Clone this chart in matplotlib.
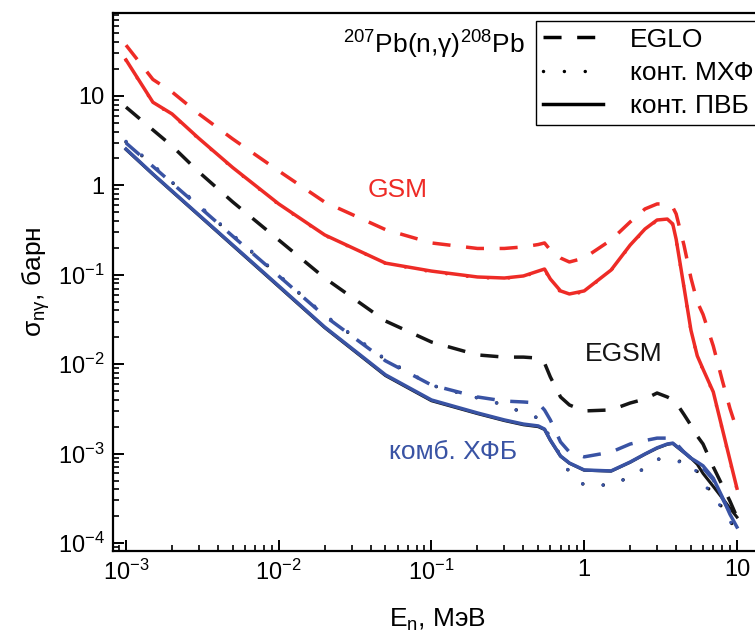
import numpy as np
import matplotlib
matplotlib.use('Agg')
import matplotlib.pyplot as plt
from matplotlib.lines import Line2D
from matplotlib.ticker import LogLocator, FuncFormatter, NullFormatter

plt.rcParams['font.family'] = ['Liberation Sans', 'DejaVu Sans']
plt.rcParams['mathtext.fontset'] = 'custom'
plt.rcParams['mathtext.rm'] = 'Liberation Sans'
plt.rcParams['mathtext.it'] = 'Liberation Sans:italic'
plt.rcParams['mathtext.bf'] = 'Liberation Sans:bold'

# энергия нейтронов, МэВ
energy = [1e-3, 1.5e-3, 2e-3, 3e-3, 5e-3, 1e-2, 2e-2, 5e-2, 0.1, 0.2, 0.3, 0.4,
          0.5, 0.55, 0.6, 0.7, 0.8, 1.0, 1.5, 2.0, 2.5, 3.0, 3.5, 3.8, 4.0, 4.5,
          5.0, 5.5, 6.0, 7.0, 8.0, 9.0, 10.0]

# GSM
gsm_eglo = [37, 15.3, 11.1, 6.3, 3.3, 1.45, 0.65, 0.32, 0.227, 0.197, 0.197, 0.205,
            0.218, 0.227, 0.189, 0.154, 0.139, 0.154, 0.245, 0.39, 0.545, 0.62, 0.62, 0.57, 0.48, 0.215,
            0.092, 0.0497, 0.036, 0.016, 6.7e-3, 3.2e-3, 1.84e-3]
gsm_pvb = [25.3, 8.5, 6.3, 3.35, 1.58, 0.62, 0.279, 0.135, 0.110, 0.0945, 0.092, 0.097,
           0.110, 0.116, 0.0898, 0.066, 0.061, 0.066, 0.113, 0.215, 0.325, 0.41, 0.42, 0.37, 0.25, 0.073,
           0.024, 0.0124, 8.8e-3, 4.9e-3, 1.93e-3, 8.5e-4, 4.1e-4]
gsm_mhf = [25.0, 8.4, 6.2, 3.3, 1.56, 0.61, 0.276, 0.134, 0.108, 0.093, 0.091, 0.096,
           0.108, 0.114, 0.088, 0.064, 0.059, 0.065, 0.112, 0.212, 0.32, 0.405, 0.415, 0.365, 0.245, 0.072,
           0.0235, 0.0122, 8.6e-3, 4.8e-3, 1.9e-3, 8.3e-4, 4.0e-4]

# EGSM
egsm_eglo = [7.5, 4.17, 2.76, 1.41, 0.652, 0.245, 0.092, 0.0304, 0.0177, 0.0127, 0.0120, 0.0120,
             0.0117, 0.0103, 7.2e-3, 4.3e-3, 3.5e-3, 3.0e-3, 3.08e-3, 3.68e-3, 4.08e-3, 4.76e-3, 4.3e-3, 4.0e-3, 3.7e-3, 2.74e-3,
             2.07e-3, 1.57e-3, 1.28e-3, 7.1e-4, 4.45e-4, 2.95e-4, 1.95e-4]
egsm_pvb = [2.52, 1.33, 0.855, 0.462, 0.212, 0.0738, 0.0256, 7.45e-3, 3.9e-3, 2.8e-3, 2.34e-3, 2.1e-3,
            2.0e-3, 1.86e-3, 1.41e-3, 9.35e-4, 7.8e-4, 6.52e-4, 6.37e-4, 8.0e-4, 9.85e-4, 1.15e-3, 1.27e-3, 1.3e-3, 1.21e-3, 1.03e-3,
            8.9e-4, 7.6e-4, 6.0e-4, 4.3e-4, 3.2e-4, 2.45e-4, 1.95e-4]
egsm_mhf = [3.05, 1.68, 1.08, 0.59, 0.275, 0.098, 0.035, 0.0112, 5.8e-3, 4.2e-3, 3.5e-3, 2.85e-3,
            2.5e-3, 2.09e-3, 1.42e-3, 9.6e-4, 6.1e-4, 4.45e-4, 4.45e-4, 5.5e-4, 6.9e-4, 8.7e-4, 8.5e-4, 8.5e-4, 8.4e-4, 8.0e-4,
            7.4e-4, 6.3e-4, 5.0e-4, 3.4e-4, 2.5e-4, 1.85e-4, 1.2e-4]

# комб. ХФБ
hfb_eglo = [2.98, 1.63, 1.06, 0.58, 0.27, 0.097, 0.0346, 0.0109, 5.85e-3, 4.3e-3, 3.87e-3, 3.78e-3,
            3.68e-3, 3.07e-3, 2.38e-3, 1.35e-3, 1.04e-3, 9.2e-4, 1.04e-3, 1.28e-3, 1.4e-3, 1.49e-3, 1.49e-3, 1.45e-3, 1.3e-3, 1.04e-3,
            8.9e-4, 8.0e-4, 6.9e-4, 5.1e-4, 3.2e-4, 2.2e-4, 1.63e-4]
hfb_pvb = [2.55, 1.34, 0.865, 0.467, 0.215, 0.075, 0.026, 7.6e-3, 3.98e-3, 2.85e-3, 2.38e-3, 2.14e-3,
           2.04e-3, 1.88e-3, 1.42e-3, 9.4e-4, 7.85e-4, 6.56e-4, 6.4e-4, 8.05e-4, 9.9e-4, 1.16e-3, 1.28e-3, 1.31e-3, 1.22e-3, 1.04e-3,
           8.9e-4, 8.05e-4, 7.3e-4, 5.3e-4, 3.3e-4, 2.1e-4, 1.51e-4]
hfb_mhf = [3.1, 1.7, 1.09, 0.6, 0.28, 0.0995, 0.0355, 0.0114, 5.85e-3, 4.2e-3, 3.5e-3, 2.85e-3,
           2.5e-3, 2.09e-3, 1.42e-3, 9.6e-4, 6.1e-4, 4.45e-4, 4.45e-4, 5.5e-4, 6.9e-4, 8.7e-4, 8.5e-4, 8.5e-4, 8.3e-4, 7.85e-4,
           7.8e-4, 6.1e-4, 4.8e-4, 3.3e-4, 2.46e-4, 1.8e-4, 1.14e-4]

RED = '#ee2b26'
BLUE = '#3953a4'
BLACK = '#151515'
LW = 2.5
DASH = (0, (5.2, 4.5))
DOT = (0, (0.01, 6.0))

fig = plt.figure(figsize=(7.55, 6.34), dpi=100)
ax = fig.add_axes([0.1497, 0.1309, 0.8596, 0.8486])


def curve(values, color, style, z, lw=LW):
    ax.plot(energy, values, color=color, lw=lw, linestyle=style,
            dash_capstyle='round' if style == DOT else 'butt', zorder=z)


curve(egsm_pvb, BLACK, '-', 2, lw=2.2)
curve(egsm_mhf, BLACK, DOT, 2)
curve(hfb_eglo, BLUE, DASH, 3)
curve(hfb_mhf, BLUE, DOT, 3)
curve(hfb_pvb, BLUE, '-', 3)
curve(egsm_eglo, BLACK, DASH, 4)
curve(gsm_eglo, RED, DASH, 4)
curve(gsm_mhf, RED, DOT, 4)
curve(gsm_pvb, RED, '-', 4)

ax.set_xscale('log')
ax.set_yscale('log')
ax.set_xlim(8.22e-4, 14.6)
ax.set_ylim(8.14e-5, 84.7)


def decade(v, pos):
    e = int(round(np.log10(v)))
    if e == 0:
        return '1'
    if e == 1:
        return '10'
    return r'$10^{%d}$' % e


for axis in (ax.xaxis, ax.yaxis):
    axis.set_major_locator(LogLocator(base=10, numticks=20))
    axis.set_minor_locator(LogLocator(base=10, subs=np.arange(2, 10), numticks=20))
    axis.set_major_formatter(FuncFormatter(decade))
    axis.set_minor_formatter(NullFormatter())

ax.tick_params(which='major', direction='in', length=8, width=1.4, labelsize=17, pad=6)
ax.tick_params(which='minor', direction='in', length=4.5, width=1.2)
for s in ax.spines.values():
    s.set_linewidth(1.6)

ax.set_xlabel(r'E$_{\mathrm{n}}$, МэВ', fontsize=19, labelpad=16)
ax.set_ylabel(r'σ$_{\mathrm{nγ}}$, барн', fontsize=19, labelpad=4)

ax.text(0.06, 0.89, 'GSM', color=RED, fontsize=19, ha='center', va='center')
ax.text(1.82, 0.013, 'EGSM', color=BLACK, fontsize=19, ha='center', va='center')
ax.text(0.138, 1.04e-3, 'комб. ХФБ', color=BLUE, fontsize=19, ha='center', va='center')
ax.text(0.104, 37, r'$^{207}$Pb(n,γ)$^{208}$Pb', fontsize=19, ha='center', va='center')

handles = [Line2D([], [], color='black', lw=LW, linestyle=DASH),
           Line2D([], [], color='black', lw=LW, linestyle=DOT, dash_capstyle='round'),
           Line2D([], [], color='black', lw=LW)]
leg = fig.legend(handles, ['EGLO', 'конт. МХФ', 'конт. ПВБ'], loc='upper left',
                 bbox_to_anchor=(536 / 755, 1 - 21 / 634), bbox_transform=fig.transFigure,
                 fontsize=19, frameon=True, fancybox=False, edgecolor='black', framealpha=1,
                 handlelength=2.3, handletextpad=1.0, borderpad=0.25, labelspacing=0.35,
                 borderaxespad=0)
leg.get_frame().set_linewidth(1.0)

fig.savefig('out.png', dpi=100)
